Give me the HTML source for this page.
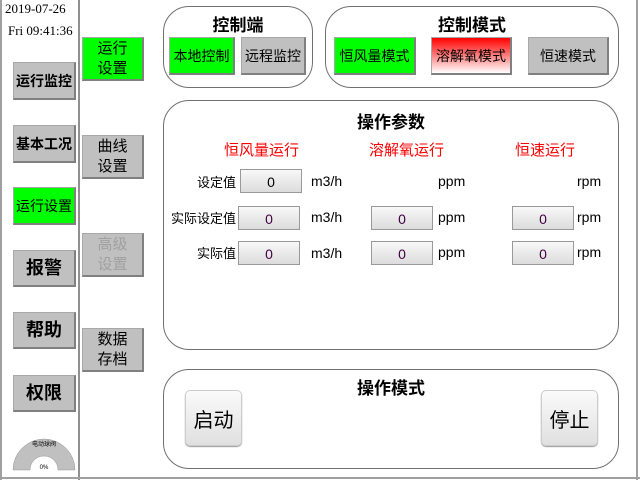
<!DOCTYPE html>
<html><head><meta charset="utf-8"><style>
*{margin:0;padding:0;box-sizing:border-box}
body{width:640px;height:480px;background:#fff;position:relative;overflow:hidden;font-family:"Liberation Sans","Noto Sans CJK SC",sans-serif;color:#000}
.a{position:absolute}
.btn{position:absolute;background:#c0c0c0;border:1px solid #a8a8a8;border-right:2px solid #808080;border-bottom:2px solid #808080;display:flex;align-items:center;justify-content:center;text-align:center;font-size:14px;line-height:20px}
.g{background:#00ff00}
.pan{position:absolute;border:1px solid #707070;border-radius:26px;background:#fff}
.t{position:absolute;font-weight:bold;font-size:17px;text-align:center}
.in{position:absolute;width:62px;height:24px;border:1px solid #999;background:linear-gradient(#f8f8f8,#dcdcdc);text-align:center;font-size:14px;line-height:24px;color:#400040}
.lb{position:absolute;font-size:13px;text-align:right}
.u{position:absolute;font-size:14px}
.red{position:absolute;color:#ff0000;font-size:15px}
.big{position:absolute;border:1px solid #ccc;border-radius:5px;background:linear-gradient(#fafafa,#e0e0e0);box-shadow:0 1px 1px #999;font-size:20px;display:flex;align-items:center;justify-content:center}
</style></head><body>
<div class="a" style="left:0;top:0;width:2px;height:480px;background:#a0a0a0"></div>
<div class="a" style="left:78px;top:0;width:2px;height:480px;background:#909090"></div>
<div class="a" style="left:636px;top:0;width:2px;height:480px;background:#a0a0a0"></div>
<div class="a" style="left:0;top:477px;width:640px;height:2px;background:#a0a0a0"></div>
<div class="a" style="left:5px;top:1px;font-family:'Liberation Serif',serif;font-size:13px">2019-07-26</div>
<div class="a" style="left:8px;top:23px;font-family:'Liberation Serif',serif;font-size:13px">Fri 09:41:36</div>
<div class="btn" style="left:13px;top:62px;width:63px;height:38px;font-weight:bold;font-size:14px">运行监控</div>
<div class="btn" style="left:13px;top:125px;width:63px;height:38px;font-weight:bold;font-size:14px">基本工况</div>
<div class="btn g" style="left:13px;top:187px;width:63px;height:38px;font-size:14px">运行设置</div>
<div class="btn" style="left:13px;top:250px;width:63px;height:37px;font-weight:bold;font-size:18px">报警</div>
<div class="btn" style="left:13px;top:312px;width:63px;height:37px;font-weight:bold;font-size:18px">帮助</div>
<div class="btn" style="left:13px;top:375px;width:63px;height:37px;font-weight:bold;font-size:18px">权限</div>
<div class="btn g" style="left:82px;top:37px;width:62px;height:44px;font-size:15px">运行<br>设置</div>
<div class="btn" style="left:82px;top:135px;width:62px;height:44px;font-size:15px">曲线<br>设置</div>
<div class="btn" style="left:82px;top:233px;width:62px;height:44px;font-size:15px;color:#a0a0a0">高级<br>设置</div>
<div class="btn" style="left:82px;top:328px;width:62px;height:44px;font-size:15px">数据<br>存档</div>
<svg class="a" style="left:0;top:0" width="80" height="480"><path d="M13 470 A31 31 0 0 1 75 470 L58 470 A14 14 0 0 0 30 470 Z" fill="#c0c0c0" stroke="#999" stroke-width="0.5"/>
<text x="44" y="446" font-size="6" text-anchor="middle" font-family="Noto Sans CJK SC">电动球阀</text>
<text x="44" y="469" font-size="6" text-anchor="middle" font-family="Liberation Sans">0%</text></svg>

<div class="pan" style="left:163px;top:6px;width:150px;height:82px"></div>
<div class="t" style="left:163px;top:11px;width:150px">控制端</div>
<div class="btn g" style="left:169px;top:37px;width:66px;height:38px">本地控制</div>
<div class="btn" style="left:241px;top:37px;width:65px;height:38px">远程监控</div>
<div class="pan" style="left:325px;top:6px;width:294px;height:82px"></div>
<div class="t" style="left:325px;top:11px;width:294px">控制模式</div>
<div class="btn g" style="left:334px;top:37px;width:82px;height:38px">恒风量模式</div>
<div class="btn" style="left:431px;top:37px;width:81px;height:38px;background:linear-gradient(#ff0000,#fff)">溶解氧模式</div>
<div class="btn" style="left:528px;top:37px;width:81px;height:38px">恒速模式</div>

<div class="pan" style="left:163px;top:100px;width:456px;height:250px"></div>
<div class="t" style="left:163px;top:108px;width:456px">操作参数</div>
<div class="red" style="left:224px;top:139px">恒风量运行</div>
<div class="red" style="left:369px;top:139px">溶解氧运行</div>
<div class="red" style="left:515px;top:139px">恒速运行</div>
<div class="lb" style="left:160px;top:172px;width:76px">设定值</div>
<div class="lb" style="left:160px;top:208px;width:76px">实际设定值</div>
<div class="lb" style="left:160px;top:243px;width:76px">实际值</div>
<div class="in" style="left:240px;top:169px;color:#000">0</div>
<div class="in" style="left:238px;top:206px">0</div>
<div class="in" style="left:238px;top:241px">0</div>
<div class="in" style="left:371px;top:206px">0</div>
<div class="in" style="left:371px;top:241px">0</div>
<div class="in" style="left:512px;top:206px">0</div>
<div class="in" style="left:512px;top:241px">0</div>
<div class="u" style="left:311px;top:173px">m3/h</div>
<div class="u" style="left:311px;top:209px">m3/h</div>
<div class="u" style="left:311px;top:245px">m3/h</div>
<div class="u" style="left:438px;top:173px">ppm</div>
<div class="u" style="left:438px;top:209px">ppm</div>
<div class="u" style="left:438px;top:244px">ppm</div>
<div class="u" style="left:577px;top:173px">rpm</div>
<div class="u" style="left:577px;top:209px">rpm</div>
<div class="u" style="left:577px;top:244px">rpm</div>

<div class="pan" style="left:163px;top:369px;width:456px;height:100px"></div>
<div class="t" style="left:163px;top:374px;width:456px">操作模式</div>
<div class="big" style="left:185px;top:390px;width:57px;height:56px">启动</div>
<div class="big" style="left:541px;top:390px;width:57px;height:56px">停止</div>
</body></html>
